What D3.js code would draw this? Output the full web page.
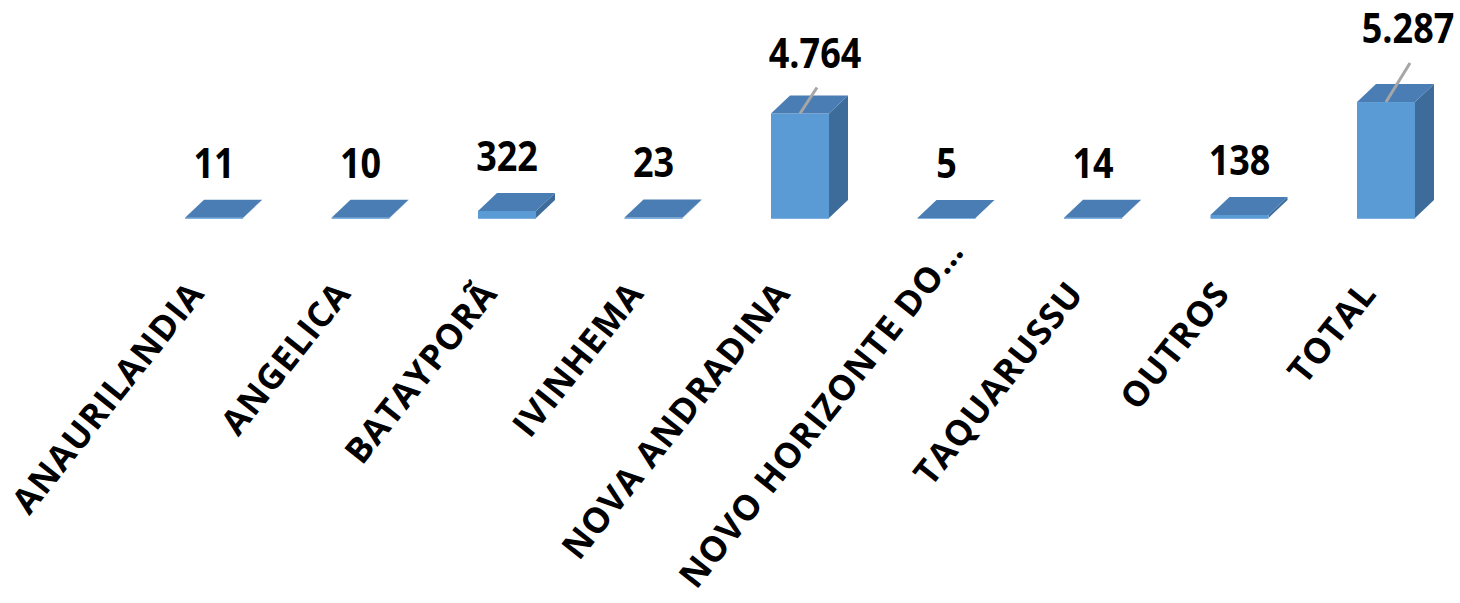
<!DOCTYPE html>
<html>
<head>
<meta charset="utf-8">
<script src="https://cdn.jsdelivr.net/npm/d3@7"></script>
<style>
  html, body { margin: 0; padding: 0; background: #ffffff; }
  svg { display: block; }
  text { font-family: "Open Sans", "Liberation Sans", sans-serif; font-weight: 700; fill: #000; }
</style>
</head>
<body>
<svg id="chart" width="1460" height="603"></svg>
<script>
// ---- data ----
const categories = ["ANAURILANDIA", "ANGELICA", "BATAYPORÃ", "IVINHEMA", "NOVA ANDRADINA",
                    "NOVO HORIZONTE DO…", "TAQUARUSSU", "OUTROS", "TOTAL"];
const values = [11, 10, 322, 23, 4764, 5, 14, 138, 5287];
const valueLabels = ["11", "10", "322", "23", "4.764", "5", "14", "138", "5.287"];

// ---- layout ----
const svg = d3.select("#chart");
const step = 146.5, barW = 58;
const pi = 1 - barW / step, po = pi / 2;
const firstX = 185;
const r0 = firstX - po * step;
const x = d3.scaleBand().domain(categories)
  .range([r0, r0 + categories.length * step])
  .paddingInner(pi).paddingOuter(po);
const baseY = 218;
const y = d3.scaleLinear().domain([0, 6000]).range([baseY, baseY - 131.6]);
const depthX = 19, depthY = 18;
const valStretch = 1.15;

const colFront = "#5b9bd5", colTop = "#4a7db4", colSide = "#3d6b9a";

// dragged labels (leader lines) in the original chart
const dragged = { "NOVA ANDRADINA": { dx: 15, gap: 46 }, "TOTAL": { dx: 22, gap: 59 } };
// category label anchor tweaks (truncated label sits higher in the original)
const catShift = { "NOVO HORIZONTE DO…": { dx: 27, dy: -42 } };

const data = categories.map((c, i) => ({ cat: c, v: values[i], lab: valueLabels[i] }));

const bars = svg.append("g").selectAll("g").data(data).join("g");

// side face
bars.append("path")
  .attr("fill", colSide)
  .attr("d", d => {
    const x0 = x(d.cat), x1 = x0 + x.bandwidth(), yt = y(d.v), yb = y(0);
    return `M${x1},${yt}L${x1 + depthX},${yt - depthY}L${x1 + depthX},${yb - depthY}L${x1},${yb}Z`;
  });
// front face
bars.append("rect")
  .attr("fill", colFront)
  .attr("x", d => x(d.cat))
  .attr("width", x.bandwidth())
  .attr("y", d => y(d.v))
  .attr("height", d => Math.max(0, y(0) - y(d.v)));
// thin lighter front edge at bottom
bars.append("line")
  .attr("stroke", "#7fb2e3").attr("stroke-width", 1.2)
  .attr("x1", d => x(d.cat)).attr("x2", d => x(d.cat) + x.bandwidth())
  .attr("y1", y(0) + 0.5).attr("y2", y(0) + 0.5);
// top face
bars.append("path")
  .attr("fill", colTop)
  .attr("d", d => {
    const x0 = x(d.cat), x1 = x0 + x.bandwidth(), yt = y(d.v);
    return `M${x0},${yt}L${x0 + depthX},${yt - depthY}L${x1 + depthX},${yt - depthY}L${x1},${yt}Z`;
  });

// leader lines + value labels
data.forEach(d => {
  const cx = x(d.cat) + x.bandwidth() / 2;
  const yt = y(d.v);
  const dr = dragged[d.cat];
  const lx = cx + (dr ? dr.dx : 0);
  const ly = yt - (dr ? dr.gap : 40);
  if (dr) {
    svg.append("line")
      .attr("x1", cx).attr("y1", yt)
      .attr("x2", lx + 2).attr("y2", ly + 20)
      .attr("stroke", "#a6a6a6").attr("stroke-width", 3);
  }
  svg.append("text")
    .attr("transform", `translate(${lx},${ly}) scale(1,${valStretch})`)
    .attr("text-anchor", "middle")
    .style("font-size", "36px")
    .text(d.lab);
});

// category labels
data.forEach(d => {
  const cx = x(d.cat) + x.bandwidth() / 2;
  const s = catShift[d.cat] || { dx: 0, dy: 0 };
  svg.append("text")
    .attr("transform", `translate(${cx - 8 + s.dx},${294 + s.dy}) rotate(-51.5)`)
    .attr("text-anchor", "end")
    .style("font-size", "35px")
    .style("letter-spacing", "1px")
    .text(d.cat);
});
</script>
</body>
</html>
